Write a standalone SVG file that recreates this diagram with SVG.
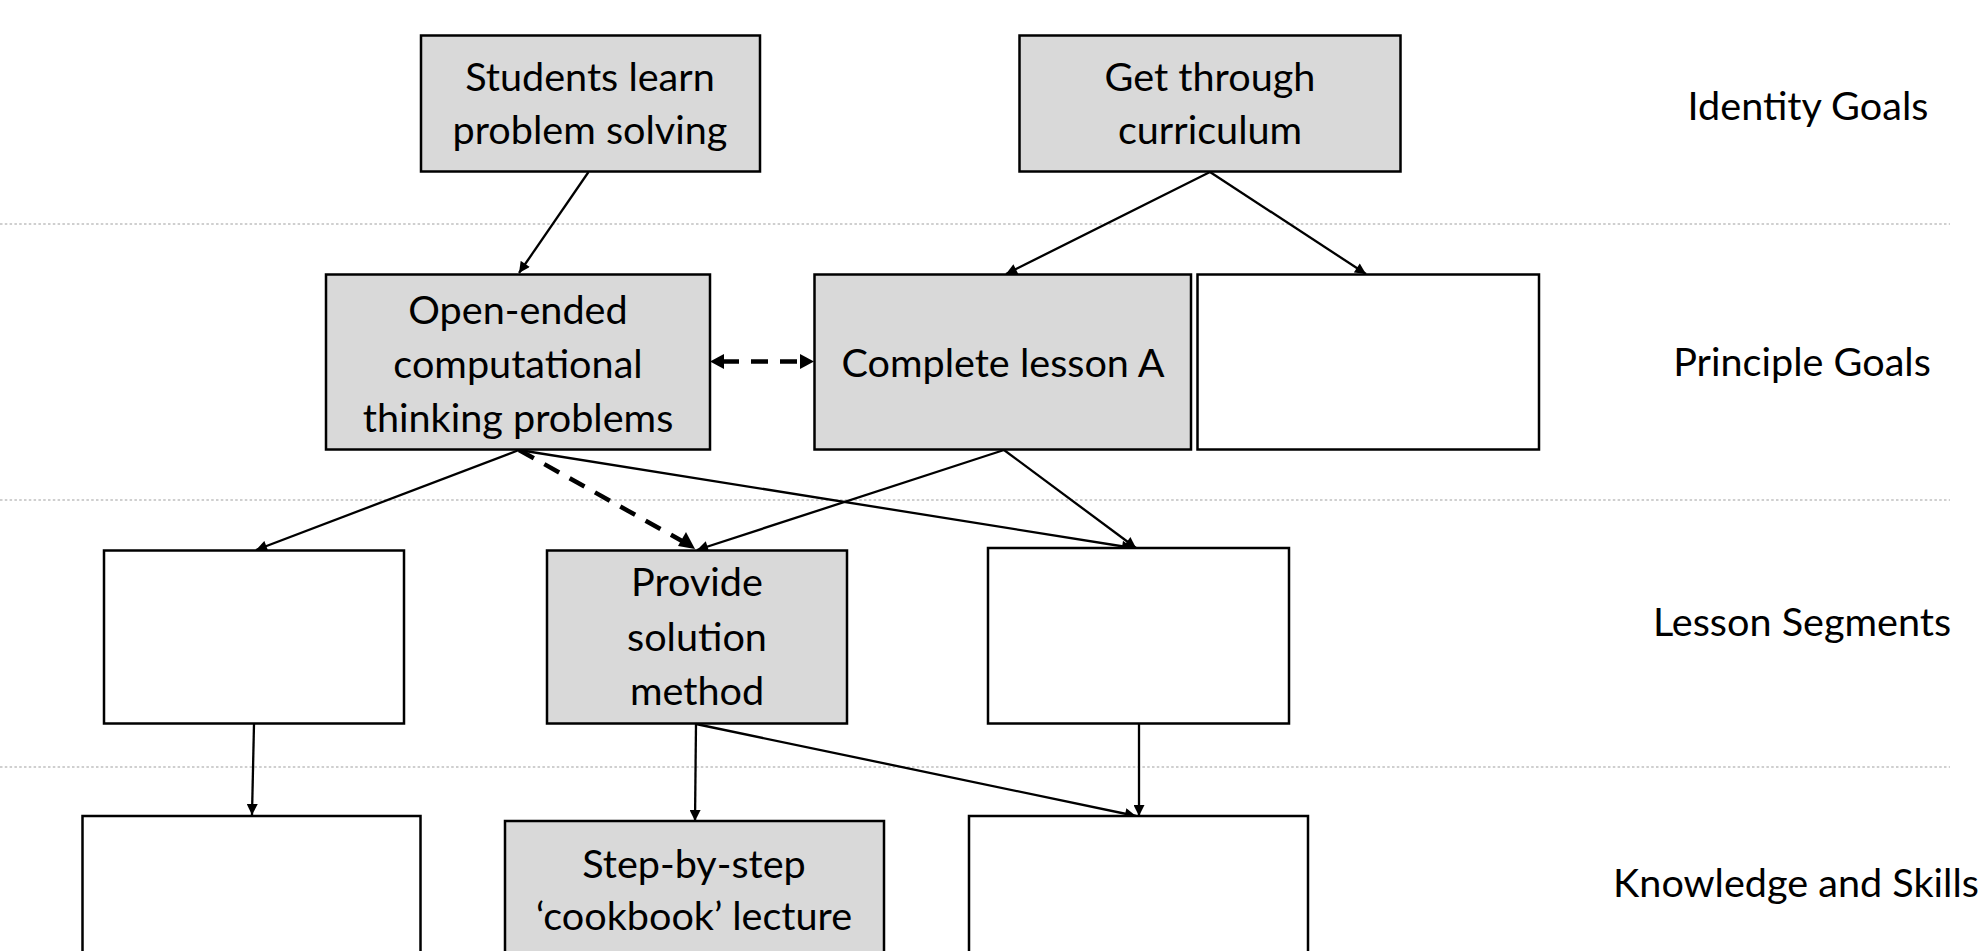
<svg xmlns="http://www.w3.org/2000/svg" width="1980" height="951" viewBox="0 0 1980 951">
<defs>
<style>
.sep{stroke:#cfcfcf;stroke-width:2.2;stroke-dasharray:2.5 2.3;fill:none}
.box{stroke:#000;stroke-width:2.5}
.g{fill:#d9d9d9}
.w{fill:#fff}
.t{font-family:Lato,"Liberation Sans",sans-serif;font-size:39.6px;fill:#000;text-anchor:middle}
.c{stroke:#000;stroke-width:2.3;fill:none;marker-end:url(#ah)}
.d{stroke:#000;stroke-width:4.5;fill:none;stroke-dasharray:17 12}
</style>
<marker id="ah" viewBox="0 0 10 10" refX="10" refY="5" markerWidth="12" markerHeight="11" markerUnits="userSpaceOnUse" orient="auto"><path d="M0,0 L10,5 L0,10 z" fill="#000"/></marker>
</defs>
<rect width="1980" height="951" fill="#fff"/>
<g id="separators">
<line class="sep" x1="0" y1="224" x2="1950" y2="224"/>
<line class="sep" x1="0" y1="500" x2="1950" y2="500"/>
<line class="sep" x1="0" y1="767" x2="1950" y2="767"/>
</g>
<g id="labels">
<text class="t" x="1808" y="120">Identity Goals</text>
<text class="t" x="1802" y="376">Principle Goals</text>
<text class="t" x="1802" y="636">Lesson Segments</text>
<text class="t" x="1796" y="897">Knowledge and Skills</text>
</g>
<g id="connectors">
<line class="c" x1="588.5" y1="172" x2="519" y2="273"/>
<line class="c" x1="1210" y1="172" x2="1006" y2="274"/>
<line class="c" x1="1210" y1="172" x2="1366" y2="274"/>
<line class="d" x1="722" y1="361.5" x2="802" y2="361.5"/>
<path d="M710,361.5 L724,354 L724,369 z" fill="#000"/>
<path d="M814,361.5 L800,354 L800,369 z" fill="#000"/>
<line class="c" x1="519" y1="450" x2="256" y2="550"/>
<line class="d" x1="519" y1="450" x2="682" y2="541"/>
<path d="M695,549 L678,546 L686,532 z" fill="#000"/>
<line class="c" x1="519" y1="450" x2="1133" y2="548"/>
<line class="c" x1="1004" y1="450" x2="697" y2="550"/>
<line class="c" x1="1004" y1="450" x2="1136" y2="548"/>
<line class="c" x1="254" y1="724" x2="252" y2="815"/>
<line class="c" x1="696" y1="724" x2="695" y2="821"/>
<line class="c" x1="696" y1="724" x2="1136" y2="816"/>
<line class="c" x1="1139" y1="724" x2="1139" y2="816"/>
</g>
<g id="n-students">
<rect class="box g" x="421" y="35.5" width="339" height="136"/>
<text class="t" x="590" y="91">Students learn</text>
<text class="t" x="590" y="144">problem solving</text>
</g>
<g id="n-curriculum">
<rect class="box g" x="1019.5" y="35.5" width="381" height="136"/>
<text class="t" x="1210" y="91">Get through</text>
<text class="t" x="1210" y="144">curriculum</text>
</g>
<g id="n-openended">
<rect class="box g" x="326" y="274.5" width="384" height="175"/>
<text class="t" x="518" y="323.5">Open-ended</text>
<text class="t" x="518" y="377.5">computational</text>
<text class="t" x="518" y="432">thinking problems</text>
</g>
<g id="n-lessonA">
<rect class="box g" x="814.5" y="274.5" width="376.5" height="175"/>
<text class="t" x="1003" y="376.5">Complete lesson A</text>
</g>
<g id="n-principle3">
<rect class="box w" x="1197.5" y="274.5" width="341.5" height="175"/>
</g>
<g id="n-seg1">
<rect class="box w" x="104" y="550.5" width="300" height="173"/>
</g>
<g id="n-provide">
<rect class="box g" x="547" y="550.5" width="300" height="173"/>
<text class="t" x="697" y="596">Provide</text>
<text class="t" x="697" y="650.5">solution</text>
<text class="t" x="697" y="705">method</text>
</g>
<g id="n-seg3">
<rect class="box w" x="988" y="548" width="301" height="175.5"/>
</g>
<g id="n-ks1">
<rect class="box w" x="82.5" y="816" width="338" height="150"/>
</g>
<g id="n-cookbook">
<rect class="box g" x="505" y="821" width="379" height="150"/>
<text class="t" x="694" y="878">Step-by-step</text>
<text class="t" x="694" y="929.5">‘cookbook’ lecture</text>
</g>
<g id="n-ks3">
<rect class="box w" x="969" y="816" width="339" height="150"/>
</g>
</svg>
